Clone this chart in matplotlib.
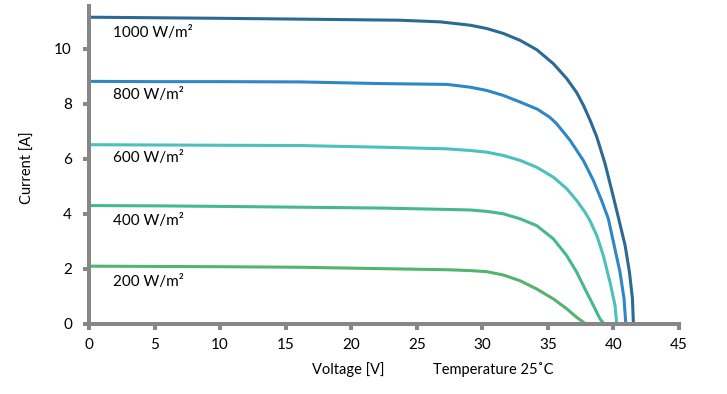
import matplotlib.pyplot as plt

plt.rcParams['font.family'] = ['Lato', 'DejaVu Sans']

# I-V curves (voltage V, current A)
v_1000 = [0, 5, 10, 16.1, 20, 23.7, 26.8, 29.06, 30.33, 31.6, 32.88, 34.15, 35.42, 36.44,
          37.2, 37.7, 38.2, 38.73, 39.36, 39.87, 40.37, 40.89, 41.22, 41.45, 41.52]
i_1000 = [11.14, 11.12, 11.10, 11.07, 11.05, 11.03, 10.97, 10.85, 10.73, 10.55, 10.30, 9.96, 9.45, 8.91,
          8.40, 7.95, 7.42, 6.79, 5.82, 4.85, 3.88, 2.85, 1.88, 0.91, 0]

v_800 = [0, 5, 10, 16.1, 22.2, 27.28, 29.06, 30.33, 31.6, 32.88, 34.2, 35.16, 35.67, 36.69,
         37.7, 38.47, 39.1, 39.61, 40.0, 40.5, 40.81, 40.94]
i_800 = [8.81, 8.80, 8.80, 8.79, 8.73, 8.70, 8.60, 8.48, 8.30, 8.06, 7.80, 7.50, 7.27, 6.67,
         5.94, 5.21, 4.48, 3.82, 2.97, 1.88, 0.91, 0]

v_600 = [0, 5, 10, 16.1, 22.2, 27.28, 29.06, 30.33, 31.6, 32.88, 34.15, 35.42, 36.44,
         37.2, 37.83, 38.2, 38.73, 39.23, 39.74, 40.12, 40.25]
i_600 = [6.51, 6.50, 6.49, 6.48, 6.42, 6.36, 6.30, 6.24, 6.12, 5.94, 5.69, 5.33, 4.91,
         4.48, 4.06, 3.76, 3.21, 2.48, 1.51, 0.67, 0]

v_400 = [0, 5, 10, 16.1, 22.2, 27.28, 29.06, 30.33, 31.6, 32.88, 34.15, 35.42, 36.44,
         37.2, 37.83, 38.47, 38.98, 39.3]
i_400 = [4.30, 4.29, 4.27, 4.24, 4.21, 4.16, 4.14, 4.09, 4.00, 3.82, 3.57, 3.09, 2.48,
         1.88, 1.27, 0.67, 0.18, 0]

v_200 = [0, 5, 10, 16.1, 22.2, 27.28, 29.06, 30.33, 31.6, 32.88, 34.15, 35.42, 36.44, 37.2, 37.9]
i_200 = [2.10, 2.09, 2.08, 2.06, 2.01, 1.97, 1.94, 1.90, 1.78, 1.57, 1.27, 0.91, 0.55, 0.24, 0]

labels = ['1000 W/m²', '800 W/m²', '600 W/m²', '400 W/m²', '200 W/m²']
colors = ['#2b6a93', '#2f87c6', '#4cc0bd', '#45b88e', '#55b46c']
curves = [(v_1000, i_1000), (v_800, i_800), (v_600, i_600), (v_400, i_400), (v_200, i_200)]
label_y = [10.56, 8.30, 6.01, 3.73, 1.51]

fig = plt.figure(figsize=(7.27, 3.94), dpi=100)
ax = fig.add_axes([0.1224, 0.1777, 0.8116, 0.8073])

for (v, i), c, lab, ly in zip(curves, colors, labels, label_y):
    ax.plot(v, i, color=c, lw=2.2, solid_joinstyle='round', solid_capstyle='butt')
    ax.text(1.8, ly, lab, fontsize=11, va='center', ha='left')

ax.set_xlim(0, 45)
ax.set_ylim(0, 11.55)
ax.set_xticks(range(0, 46, 5))
ax.set_yticks(range(0, 11, 2))

grey = '#878787'
for s in ['top', 'right']:
    ax.spines[s].set_visible(False)
for s in ['left', 'bottom']:
    ax.spines[s].set_color(grey)
    ax.spines[s].set_linewidth(2.9)
ax.tick_params(axis='both', color=grey, width=2.9, length=4.3, labelsize=11)
ax.tick_params(axis='x', pad=6)
ax.tick_params(axis='y', pad=8)

ax.set_ylabel('Current [A]', fontsize=10.5)
ax.yaxis.set_label_coords(-0.092, 0.49)
fig.text(0.479, 0.063, 'Voltage [V]', fontsize=10.5, ha='center', va='center')
fig.text(0.596, 0.063, 'Temperature 25˚C', fontsize=10.5, ha='left', va='center')

fig.savefig('out.png', dpi=100)
